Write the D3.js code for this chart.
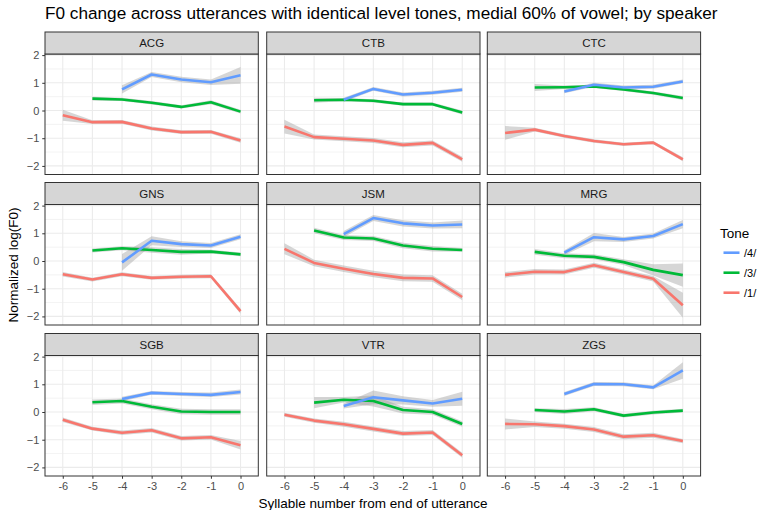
<!DOCTYPE html>
<html>
<head>
<meta charset="utf-8">
<script src="https://cdn.jsdelivr.net/npm/d3@7"></script>
<style>
  body { margin: 0; background: #fff; }
  text { font-family: "Liberation Sans", Arial, sans-serif; }
</style>
</head>
<body>
<div id="chart"></div>
<script>
// data
var speakers = ["ACG", "CTB", "CTC", "GNS", "JSM", "MRG", "SGB", "VTR", "ZGS"];
var syllables = [-6, -5, -4, -3, -2, -1, 0];
var yTicks = [-2, -1, 0, 1, 2];
var tones = ["/4/", "/3/", "/1/"];
var toneColors = ["#619CFF", "#00BA38", "#F8766D"];

// means per speaker, positions -6..0 (null = no data)
var tone4Mean = [
  [null, null, 0.76, 1.30, 1.12, 1.02, 1.27],
  [null, null, 0.39, 0.78, 0.58, 0.64, 0.75],
  [null, null, 0.69, 0.93, 0.83, 0.86, 1.05],
  [null, null, -0.05, 0.73, 0.61, 0.56, 0.88],
  [null, null, 0.97, 1.55, 1.36, 1.28, 1.32],
  [null, null, 0.30, 0.86, 0.78, 0.90, 1.33],
  [null, null, 0.47, 0.69, 0.65, 0.62, 0.72],
  [null, null, 0.22, 0.53, 0.42, 0.31, 0.48],
  [null, null, 0.65, 1.01, 1.00, 0.89, 1.50]
];
var tone4Band = [
  [0, 0, 0.15, 0.09, 0.10, 0.10, 0.30],
  [0, 0, 0.07, 0.07, 0.07, 0.07, 0.07],
  [0, 0, 0.07, 0.07, 0.07, 0.07, 0.07],
  [0, 0, 0.30, 0.16, 0.10, 0.09, 0.09],
  [0, 0, 0.11, 0.11, 0.11, 0.11, 0.14],
  [0, 0, 0.09, 0.15, 0.09, 0.09, 0.15],
  [0, 0, 0.08, 0.07, 0.07, 0.08, 0.09],
  [0, 0, 0.09, 0.25, 0.15, 0.12, 0.25],
  [0, 0, 0.07, 0.07, 0.07, 0.07, 0.30]
];
var tone3Mean = [
  [null, 0.43, 0.40, 0.28, 0.13, 0.30, -0.04],
  [null, 0.37, 0.39, 0.35, 0.23, 0.23, -0.07],
  [null, 0.83, 0.84, 0.87, 0.76, 0.63, 0.45],
  [null, 0.38, 0.46, 0.40, 0.33, 0.34, 0.24],
  [null, 1.10, 0.85, 0.81, 0.56, 0.44, 0.40],
  [null, 0.33, 0.19, 0.15, -0.04, -0.32, -0.51],
  [null, 0.35, 0.40, 0.19, 0.02, 0.00, 0.00],
  [null, 0.34, 0.44, 0.40, 0.07, 0.00, -0.43],
  [null, 0.07, 0.02, 0.10, -0.13, -0.02, 0.05]
];
var tone3Band = [
  [0, 0.07, 0.06, 0.06, 0.06, 0.07, 0.07],
  [0, 0.09, 0.06, 0.06, 0.06, 0.06, 0.07],
  [0, 0.13, 0.06, 0.06, 0.06, 0.06, 0.07],
  [0, 0.07, 0.07, 0.10, 0.10, 0.07, 0.07],
  [0, 0.10, 0.09, 0.09, 0.10, 0.10, 0.07],
  [0, 0.10, 0.09, 0.09, 0.10, 0.20, 0.42],
  [0, 0.10, 0.09, 0.09, 0.10, 0.10, 0.10],
  [0, 0.20, 0.10, 0.20, 0.12, 0.10, 0.10],
  [0, 0.07, 0.09, 0.07, 0.07, 0.07, 0.07]
];
var tone1Mean = [
  [-0.17, -0.42, -0.41, -0.65, -0.78, -0.77, -1.08],
  [-0.58, -0.96, -1.02, -1.08, -1.24, -1.17, -1.76],
  [-0.81, -0.69, -0.92, -1.10, -1.22, -1.16, -1.76],
  [-0.48, -0.67, -0.48, -0.61, -0.57, -0.55, -1.81],
  [0.44, -0.07, -0.28, -0.47, -0.61, -0.63, -1.30],
  [-0.50, -0.39, -0.40, -0.15, -0.40, -0.64, -1.60],
  [-0.28, -0.60, -0.75, -0.66, -0.95, -0.91, -1.20],
  [-0.10, -0.31, -0.44, -0.61, -0.78, -0.74, -1.56],
  [-0.43, -0.44, -0.51, -0.63, -0.89, -0.84, -1.05]
];
var tone1Band = [
  [0.20, 0.07, 0.07, 0.07, 0.07, 0.07, 0.08],
  [0.25, 0.09, 0.09, 0.09, 0.09, 0.09, 0.09],
  [0.25, 0.07, 0.06, 0.06, 0.06, 0.06, 0.07],
  [0.08, 0.07, 0.07, 0.07, 0.07, 0.07, 0.09],
  [0.20, 0.12, 0.12, 0.12, 0.12, 0.12, 0.12],
  [0.10, 0.10, 0.09, 0.09, 0.09, 0.10, 0.45],
  [0.08, 0.07, 0.08, 0.08, 0.08, 0.08, 0.15],
  [0.07, 0.08, 0.09, 0.09, 0.09, 0.09, 0.09],
  [0.20, 0.10, 0.09, 0.09, 0.09, 0.09, 0.08]
];
var toneMeans = [tone4Mean, tone3Mean, tone1Mean];
var toneBands = [tone4Band, tone3Band, tone1Band];

var W = 759, H = 510;
var panelLeft = [45, 266.7, 487.3], panelW = 213.3;
var stripTop = [32, 182.5, 333.5], stripH = 22;
var panelH = 120.5;
var lineWidth = 2.6;

var svg = d3.select("#chart").append("svg")
  .attr("width", W).attr("height", H);

var x = d3.scalePoint().domain(syllables).range([0, panelW]).padding(0.6);
var y = d3.scaleLinear().domain([-2.31, 2.04]).range([panelH, 0]);

svg.append("text")
  .attr("x", 45).attr("y", 19)
  .attr("font-size", 17.2).attr("fill", "#000")
  .text("F0 change across utterances with identical level tones, medial 60% of vowel; by speaker");

speakers.forEach(function(sp, si) {
  var col = si % 3, row = Math.floor(si / 3);
  var px = panelLeft[col], st = stripTop[row], pt = st + stripH;
  var g = svg.append("g").attr("transform", "translate(" + px + "," + pt + ")");

  // strip
  svg.append("rect")
    .attr("x", px).attr("y", st).attr("width", panelW).attr("height", stripH)
    .attr("fill", "#d6d6d6").attr("stroke", "#333").attr("stroke-width", 1);
  svg.append("text")
    .attr("x", px + panelW / 2).attr("y", st + stripH / 2)
    .attr("text-anchor", "middle").attr("dominant-baseline", "central")
    .attr("font-size", 11.5).attr("fill", "#1a1a1a")
    .text(sp);

  // grid
  var minor = [-1.5, -0.5, 0.5, 1.5];
  g.selectAll("line.minor").data(minor).enter().append("line")
    .attr("x1", 0).attr("x2", panelW)
    .attr("y1", function(d) { return y(d); }).attr("y2", function(d) { return y(d); })
    .attr("stroke", "#ebebeb").attr("stroke-width", 0.6);
  g.selectAll("line.hmajor").data(yTicks).enter().append("line")
    .attr("x1", 0).attr("x2", panelW)
    .attr("y1", function(d) { return y(d); }).attr("y2", function(d) { return y(d); })
    .attr("stroke", "#ebebeb").attr("stroke-width", 1.1);
  g.selectAll("line.vmajor").data(syllables).enter().append("line")
    .attr("y1", 0).attr("y2", panelH)
    .attr("x1", function(d) { return x(d); }).attr("x2", function(d) { return x(d); })
    .attr("stroke", "#ebebeb").attr("stroke-width", 1.1);

  // ribbons
  toneMeans.forEach(function(means, ti) {
    var pts = syllables.map(function(s, k) {
      return { s: s, m: means[si][k], b: toneBands[ti][si][k] };
    }).filter(function(d) { return d.m != null; });
    g.append("path").datum(pts)
      .attr("fill", "#999").attr("fill-opacity", 0.4)
      .attr("d", d3.area()
        .x(function(d) { return x(d.s); })
        .y0(function(d) { return y(d.m - d.b); })
        .y1(function(d) { return y(d.m + d.b); }));
  });
  // lines (red drawn first, blue on top)
  [2, 1, 0].forEach(function(ti) {
    var pts = syllables.map(function(s, k) {
      return { s: s, m: toneMeans[ti][si][k] };
    }).filter(function(d) { return d.m != null; });
    g.append("path").datum(pts)
      .attr("fill", "none").attr("stroke", toneColors[ti])
      .attr("stroke-width", lineWidth).attr("stroke-linejoin", "round")
      .attr("d", d3.line().x(function(d) { return x(d.s); }).y(function(d) { return y(d.m); }));
  });

  // border
  g.append("rect")
    .attr("width", panelW).attr("height", panelH)
    .attr("fill", "none").attr("stroke", "#333").attr("stroke-width", 1);

  // y axis on first column
  if (col === 0) {
    var ya = g.append("g").call(d3.axisLeft(y).tickValues(yTicks).tickSize(2.75).tickPadding(3).tickFormat(d3.format("d")));
    ya.select(".domain").remove();
    ya.selectAll("line").attr("stroke", "#333");
    ya.selectAll("text").attr("fill", "#4d4d4d").attr("font-size", 11)
      .style("font-family", "'Liberation Sans', Arial, sans-serif");
  }
  // x axis on bottom row
  if (row === 2) {
    var xa = g.append("g").attr("transform", "translate(0," + panelH + ")")
      .call(d3.axisBottom(x).tickSize(2.75).tickPadding(3));
    xa.select(".domain").remove();
    xa.selectAll("line").attr("stroke", "#333");
    xa.selectAll("text").attr("fill", "#4d4d4d").attr("font-size", 11)
      .style("font-family", "'Liberation Sans', Arial, sans-serif");
  }
});

// axis titles
svg.append("text")
  .attr("x", 373).attr("y", 508)
  .attr("text-anchor", "middle").attr("font-size", 13.5).attr("fill", "#000")
  .text("Syllable number from end of utterance");
svg.append("text")
  .attr("transform", "translate(18,265) rotate(-90)")
  .attr("text-anchor", "middle").attr("font-size", 13.5).attr("fill", "#000")
  .text("Normalized log(F0)");

// legend
var lg = svg.append("g").attr("transform", "translate(720,0)");
lg.append("text").attr("x", 0).attr("y", 238)
  .attr("font-size", 13.5).attr("fill", "#000").text("Tone");
lg.selectAll("line.key").data(tones).enter().append("line")
  .attr("x1", 3.5).attr("x2", 19.5)
  .attr("y1", function(d, i) { return 252.7 + i * 20; })
  .attr("y2", function(d, i) { return 252.7 + i * 20; })
  .attr("stroke", function(d, i) { return toneColors[i]; })
  .attr("stroke-width", lineWidth);
lg.selectAll("text.key").data(tones).enter().append("text")
  .attr("x", 24).attr("y", function(d, i) { return 252.7 + i * 20; })
  .attr("dominant-baseline", "central")
  .attr("font-size", 11).attr("fill", "#000")
  .text(function(d) { return d; });
</script>
</body>
</html>
